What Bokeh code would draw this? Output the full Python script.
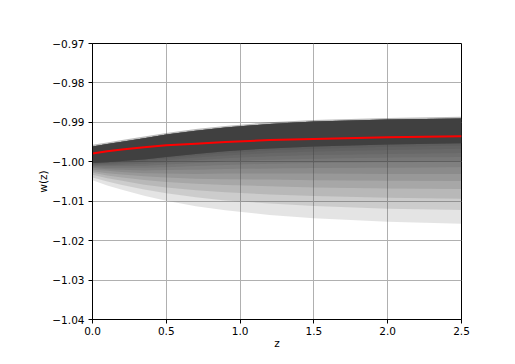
from bokeh.plotting import figure
from bokeh.models import Range1d, FixedTicker
from bokeh.embed import file_html
from bokeh.resources import INLINE

z_knots = [0.0, 0.1, 0.2, 0.35, 0.5, 0.7, 0.9, 1.2, 1.5, 2.0, 2.5]

# mean w(z) (red line)
mean_w = [-0.9979, -0.9973, -0.9969, -0.9963, -0.9958, -0.9954, -0.9950, -0.9945, -0.9942, -0.9938, -0.9935]

# dense (saturated) part of the sample band
band_top_soft = [-0.9957, -0.9951, -0.9945, -0.9936, -0.9927, -0.9917, -0.9909, -0.9900, -0.9894, -0.9889, -0.9886]
band_top = [-0.9961, -0.9955, -0.9949, -0.9940, -0.9931, -0.9921, -0.9913, -0.9904, -0.9898, -0.9893, -0.9890]
band_bottom = [-1.0003, -1.0001, -0.9998, -0.9994, -0.9988, -0.9980, -0.9973, -0.9966, -0.9961, -0.9956, -0.9953]

# lower edges of the thinning tail of samples (from dense to sparse)
tail_1 = [-1.0004, -1.0003, -1.0000, -0.9997, -0.9991, -0.9984, -0.9978, -0.9971, -0.9967, -0.9962, -0.9959]
tail_2 = [-1.0006, -1.0005, -1.0003, -1.0000, -0.9996, -0.9989, -0.9984, -0.9978, -0.9974, -0.9970, -0.9967]
tail_3 = [-1.0008, -1.0008, -1.0007, -1.0005, -1.0001, -0.9996, -0.9991, -0.9986, -0.9983, -0.9980, -0.9978]
tail_4 = [-1.0011, -1.0011, -1.0010, -1.0010, -1.0007, -1.0003, -0.9999, -0.9995, -0.9992, -0.9989, -0.9988]
tail_5 = [-1.0013, -1.0015, -1.0015, -1.0015, -1.0014, -1.0011, -1.0008, -1.0005, -1.0003, -1.0001, -1.0000]
tail_6 = [-1.0016, -1.0019, -1.0020, -1.0022, -1.0021, -1.0020, -1.0018, -1.0017, -1.0016, -1.0015, -1.0014]
tail_7 = [-1.0020, -1.0023, -1.0026, -1.0029, -1.0030, -1.0031, -1.0030, -1.0030, -1.0030, -1.0031, -1.0031]
tail_8 = [-1.0024, -1.0029, -1.0032, -1.0037, -1.0040, -1.0043, -1.0044, -1.0045, -1.0047, -1.0048, -1.0049]
tail_9 = [-1.0028, -1.0035, -1.0040, -1.0046, -1.0051, -1.0056, -1.0059, -1.0062, -1.0065, -1.0068, -1.0069]
tail_10 = [-1.0033, -1.0042, -1.0048, -1.0058, -1.0065, -1.0072, -1.0077, -1.0083, -1.0087, -1.0091, -1.0094]
tail_11 = [-1.0040, -1.0050, -1.0059, -1.0070, -1.0080, -1.0090, -1.0098, -1.0106, -1.0112, -1.0119, -1.0122]
tail_12 = [-1.0047, -1.0060, -1.0071, -1.0086, -1.0099, -1.0113, -1.0123, -1.0135, -1.0143, -1.0152, -1.0157]
tail_edges = [tail_1, tail_2, tail_3, tail_4, tail_5, tail_6,
              tail_7, tail_8, tail_9, tail_10, tail_11, tail_12]

x_ticks = [0.0, 0.5, 1.0, 1.5, 2.0, 2.5]
x_tick_labels = ["0.0", "0.5", "1.0", "1.5", "2.0", "2.5"]
y_ticks = [-1.04, -1.03, -1.02, -1.01, -1.0, -0.99, -0.98, -0.97]
y_tick_labels = ["\u22121.04", "\u22121.03", "\u22121.02", "\u22121.01", "\u22121.00",
                 "\u22120.99", "\u22120.98", "\u22120.97"]

FONT = "DejaVu Sans"
GREY = "#404040"

p = figure(width=507, height=356, output_backend="svg", toolbar_location=None,
           x_range=Range1d(0.0, 2.5), y_range=Range1d(-1.04, -0.97),
           min_border_left=92, min_border_right=46, min_border_top=43, min_border_bottom=37)

p.background_fill_color = "white"
p.border_fill_color = "white"
p.outline_line_color = "black"
p.outline_line_width = 1

# samples: thinning tail, then dense band
for edge in tail_edges:
    p.varea(x=z_knots, y1=band_top, y2=edge, fill_color=GREY, fill_alpha=0.14)
p.varea(x=z_knots, y1=band_top_soft, y2=band_bottom, fill_color=GREY, fill_alpha=0.35)
p.varea(x=z_knots, y1=band_top, y2=band_bottom, fill_color=GREY, fill_alpha=1.0)

# mean
p.line(x=z_knots, y=mean_w, line_color="red", line_width=2)

# axes
p.xaxis.ticker = FixedTicker(ticks=x_ticks)
p.yaxis.ticker = FixedTicker(ticks=y_ticks)
p.xaxis.major_label_overrides = dict(zip(x_ticks, x_tick_labels))
p.yaxis.major_label_overrides = dict(zip(y_ticks, y_tick_labels))
for ax in (p.xaxis, p.yaxis):
    ax.major_label_text_font = FONT
    ax.major_label_text_font_size = "10.5px"
    ax.major_label_text_color = "black"
    ax.axis_label_text_font = FONT
    ax.axis_label_text_font_size = "10.5px"
    ax.axis_label_text_font_style = "normal"
    ax.axis_label_text_color = "black"
    ax.axis_line_color = "black"
    ax.major_tick_line_color = "black"
    ax.major_tick_out = 4
    ax.major_tick_in = 0
    ax.minor_tick_line_color = None
    ax.major_label_standoff = 3
p.xaxis.axis_label = "z"
p.yaxis.axis_label = "w(z)"
p.yaxis.major_label_standoff = 4
p.xaxis.axis_label_standoff = -1
p.yaxis.axis_label_standoff = 0

p.grid.grid_line_color = "#b0b0b0"
p.grid.grid_line_width = 1
p.xgrid.ticker = FixedTicker(ticks=x_ticks)
p.ygrid.ticker = FixedTicker(ticks=y_ticks)

open("out.html", "w").write(file_html(p, INLINE))
